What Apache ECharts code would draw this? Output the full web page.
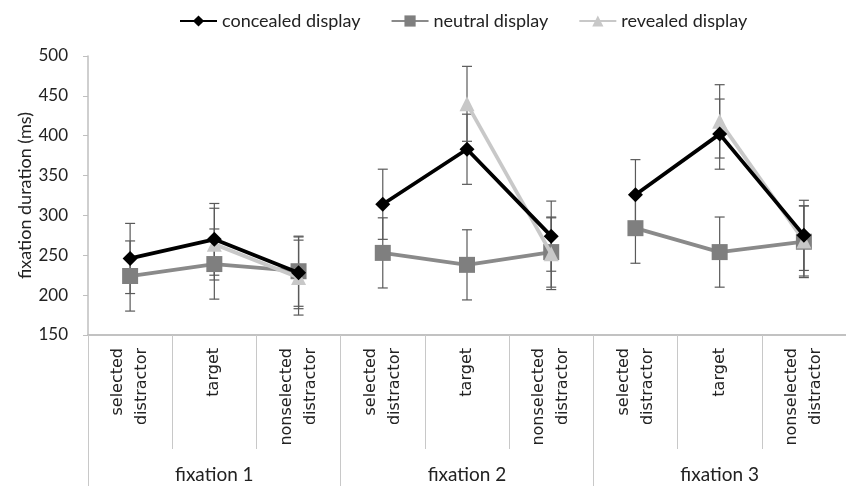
<!DOCTYPE html>
<html>
<head>
<meta charset="utf-8">
<script src="https://cdn.jsdelivr.net/npm/echarts@6/dist/echarts.min.js"></script>
<style>
  html, body { margin: 0; padding: 0; background: #fff; }
  #chart { width: 846px; height: 486px; }
</style>
</head>
<body>
<div id="chart"></div>
<script>
// categories
var categories = ['selected\ndistractor', 'target', 'nonselected\ndistractor',
                  'selected\ndistractor', 'target', 'nonselected\ndistractor',
                  'selected\ndistractor', 'target', 'nonselected\ndistractor']
var groups = ['fixation 1', 'fixation 2', 'fixation 3']

// means (ms) and error bar half-widths
var concealed    = [246, 270, 228, 314, 383, 274, 326, 402, 275]
var concealedErr = [44, 45, 45, 44, 44, 44, 44, 44, 44]
var neutral      = [224, 239, 230, 253, 238, 254, 284, 254, 267]
var neutralErr   = [44, 44, 44, 44, 44, 44, 44, 44, 45]
var revealed     = [null, 264, 222, null, 440, 252, null, 418, 268]
var revealedErr  = [null, 45, 47, null, 47, 45, null, 46, 44]

var yTicks = [150, 500, 50]  // min, max, interval

var displays = [
  { name: 'concealed display', values: concealed, err: concealedErr, color: '#000000', lineColor: '#000000', symbol: 'diamond', size: 15, z: 5 },
  { name: 'neutral display', values: neutral, err: neutralErr, color: '#7f7f7f', lineColor: '#8a8a8a', symbol: 'rect', size: 16, z: 3 },
  { name: 'revealed display', values: revealed, err: revealedErr, color: '#c8c8c8', lineColor: '#c8c8c8', symbol: 'triangle', size: 15, z: 4 }
]

var labelFont = 'Lato, "Open Sans", sans-serif'

// one line piece per display per fixation group, so groups are not joined
function groupData (values, g) {
  return values.map(function (v, i) {
    return (Math.floor(i / 3) === g) ? v : null
  })
}

function errData (values, err) {
  var out = []
  values.forEach(function (v, i) {
    if (v !== null && err[i] !== null) out.push([i, v - err[i], v + err[i]])
  })
  return out
}

function renderErr (params, api) {
  var top = api.coord([api.value(0), api.value(2)])
  var bot = api.coord([api.value(0), api.value(1)])
  var w = 5
  var st = { stroke: '#5a5a5a', lineWidth: 1.2 }
  return {
    type: 'group',
    children: [
      { type: 'line', shape: { x1: top[0], y1: top[1], x2: bot[0], y2: bot[1] }, style: st },
      { type: 'line', shape: { x1: top[0] - w, y1: top[1], x2: top[0] + w, y2: top[1] }, style: st },
      { type: 'line', shape: { x1: bot[0] - w, y1: bot[1], x2: bot[0] + w, y2: bot[1] }, style: st }
    ]
  }
}

var series = []
displays.forEach(function (d) {
  series.push({
    type: 'custom',
    name: d.name + ' err',
    renderItem: renderErr,
    xAxisIndex: 0,
    encode: { x: 0, y: [1, 2] },
    data: errData(d.values, d.err),
    z: 1,
    silent: true
  })
})
displays.forEach(function (d) {
  for (var g = 0; g < 3; g++) {
    series.push({
      type: 'line',
      name: d.name,
      xAxisIndex: 0,
      data: groupData(d.values, g),
      connectNulls: false,
      symbol: d.symbol,
      symbolSize: d.size,
      itemStyle: { color: d.color },
      lineStyle: { color: d.lineColor, width: 3.8 },
      z: d.z
    })
  }
})

var myChart = echarts.init(document.getElementById('chart'))
myChart.setOption({
  backgroundColor: '#ffffff',
  animation: false,
  legend: {
    top: 7,
    left: 174,
    itemWidth: 37,
    itemHeight: 14,
    itemGap: 30,
    data: displays.map(function (d) { return d.name }),
    textStyle: { fontFamily: labelFont, fontSize: 18, color: '#222' }
  },
  grid: { left: 88, right: 0, top: 56, bottom: 151 },
  xAxis: [{
    type: 'category',
    data: categories,
    position: 'bottom',
    axisLine: { show: true, lineStyle: { color: '#bfbfbf', width: 1.5 } },
    axisTick: { show: true, interval: 0, length: 114, lineStyle: { color: '#c8c8c8' } },
    axisLabel: {
      interval: 0,
      rotate: 90,
      margin: 13,
      fontFamily: '"DejaVu Sans", sans-serif',
      fontSize: 16,
      lineHeight: 24,
      color: '#222'
    }
  }, {
    type: 'category',
    data: groups,
    position: 'bottom',
    axisLine: { show: true, lineStyle: { color: '#bfbfbf', width: 1.5 } },
    axisTick: { show: true, interval: 0, length: 151, lineStyle: { color: '#c8c8c8' } },
    axisLabel: { interval: 0, margin: 130, fontFamily: labelFont, fontSize: 19, color: '#222' }
  }],
  yAxis: {
    type: 'value',
    min: yTicks[0],
    max: yTicks[1],
    interval: yTicks[2],
    name: 'fixation duration (ms)',
    nameLocation: 'middle',
    nameGap: 54,
    nameMoveOverlap: false,
    nameTextStyle: { fontFamily: labelFont, fontSize: 18, color: '#222' },
    axisLine: { show: true, lineStyle: { color: '#bfbfbf', width: 1.5 } },
    axisTick: { show: true, length: 5, lineStyle: { color: '#bfbfbf' } },
    splitLine: { show: false },
    axisLabel: { fontFamily: labelFont, fontSize: 17, color: '#222', margin: 20 }
  },
  series: series
})
</script>
</body>
</html>
